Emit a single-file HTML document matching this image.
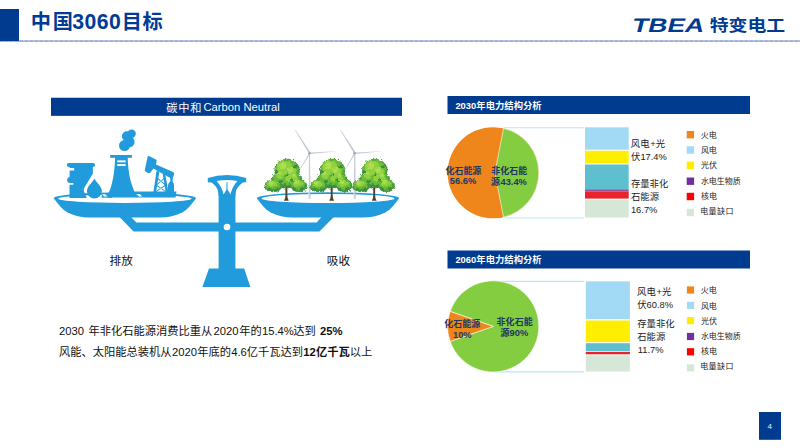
<!DOCTYPE html>
<html lang="zh"><head><meta charset="utf-8"><title>中国3060目标</title>
<style>
html,body{margin:0;padding:0;background:#fff;}
body{width:800px;height:448px;position:relative;overflow:hidden;font-family:"Liberation Sans","Noto Sans CJK SC",sans-serif;}
#txt span{position:absolute;white-space:nowrap;color:transparent;line-height:1;font-family:"Liberation Sans","Noto Sans CJK SC",sans-serif;}
svg text{font-family:"Liberation Sans","Noto Sans CJK SC",sans-serif;}
</style></head><body>
<div id="txt" aria-hidden="false"><span style="left:32.5px;top:11.0px;font-size:20.20px">中国</span><span style="left:73.1px;top:9.8px;font-size:21.20px">3060</span><span style="left:124.6px;top:10.9px;font-size:20.20px">目标</span><span style="left:631.4px;top:14.2px;font-size:19.50px">TBEA</span><span style="left:710.0px;top:16.8px;font-size:16.00px">特变电工</span><span style="left:166.7px;top:101.7px;font-size:11.25px">碳中和</span><span style="left:204.1px;top:100.8px;font-size:11.25px">Carbon Neutral</span><span style="left:110.0px;top:254.7px;font-size:11.67px">排放</span><span style="left:327.8px;top:254.8px;font-size:11.67px">吸收</span><span style="left:59.6px;top:324.5px;font-size:11.25px">2030 年非化石能源消费比重从2020年的15.4%达到 25%</span><span style="left:59.5px;top:346.1px;font-size:11.25px">风能、太阳能总装机从2020年底的4.6亿千瓦达到12亿千瓦以上</span><span style="left:455.8px;top:100.4px;font-size:9.33px">2030年电力结构分析</span><span style="left:455.8px;top:254.1px;font-size:9.33px">2060年电力结构分析</span><span style="left:445.7px;top:165.3px;font-size:9.33px">化石能源</span><span style="left:450.2px;top:176.1px;font-size:9.33px">56.6%</span><span style="left:491.7px;top:165.3px;font-size:9.33px">非化石能</span><span style="left:491.0px;top:176.3px;font-size:9.33px">源43.4%</span><span style="left:444.6px;top:319.1px;font-size:9.33px">化石能源</span><span style="left:453.5px;top:329.9px;font-size:9.33px">10%</span><span style="left:497.0px;top:316.7px;font-size:9.33px">非化石能</span><span style="left:500.5px;top:327.7px;font-size:9.33px">源90%</span><span style="left:631.2px;top:138.6px;font-size:9.33px">风电+光</span><span style="left:631.2px;top:151.4px;font-size:9.33px">伏17.4%</span><span style="left:631.2px;top:179.0px;font-size:9.33px">存量非化</span><span style="left:631.2px;top:191.5px;font-size:9.33px">石能源</span><span style="left:631.8px;top:204.6px;font-size:9.33px">16.7%</span><span style="left:637.5px;top:286.4px;font-size:9.33px">风电+光</span><span style="left:637.5px;top:299.4px;font-size:9.33px">伏60.8%</span><span style="left:637.5px;top:318.7px;font-size:9.33px">存量非化</span><span style="left:637.5px;top:331.7px;font-size:9.33px">石能源</span><span style="left:638.6px;top:344.5px;font-size:9.33px">11.7%</span><span style="left:701.2px;top:130.9px;font-size:8.00px">火电</span><span style="left:701.2px;top:146.0px;font-size:8.00px">风电</span><span style="left:701.2px;top:161.2px;font-size:8.00px">光伏</span><span style="left:701.2px;top:176.5px;font-size:8.00px">水电生物质</span><span style="left:701.2px;top:191.4px;font-size:8.00px">核电</span><span style="left:701.2px;top:206.5px;font-size:8.00px">电量缺口</span><span style="left:701.2px;top:286.3px;font-size:8.00px">火电</span><span style="left:701.2px;top:301.4px;font-size:8.00px">风电</span><span style="left:701.2px;top:316.6px;font-size:8.00px">光伏</span><span style="left:701.2px;top:331.9px;font-size:8.00px">水电生物质</span><span style="left:701.2px;top:346.8px;font-size:8.00px">核电</span><span style="left:701.2px;top:361.9px;font-size:8.00px">电量缺口</span><span style="left:767.7px;top:421.7px;font-size:8.00px">4</span></div>
<svg width="800" height="448" viewBox="0 0 800 448" style="position:absolute;left:0;top:0;display:block"><rect x="0" y="9" width="19" height="32" fill="#003b90"/>
<line x1="0" y1="41.1" x2="800" y2="41.1" stroke="#003b90" stroke-width="1.9" opacity="0.24"/><line x1="0" y1="41.1" x2="800" y2="41.1" stroke="#003b90" stroke-width="1.5" stroke-dasharray="0.6 0.65" opacity="0.5"/>
<text x="30.64" y="29.19" font-size="20.2" font-weight="bold" fill="#003b96" textLength="42.3" lengthAdjust="spacing">中国</text>
<text x="72.28" y="28.83" font-size="21.2" font-weight="bold" fill="#003b96" textLength="48.5" lengthAdjust="spacing">3060</text>
<text x="121.70" y="29.09" font-size="20.2" font-weight="bold" fill="#003b96" textLength="41.1" lengthAdjust="spacing">目标</text>
<g fill="#003b90" transform="translate(0 32) skewX(-14) translate(0 -32)"><text x="630.91" y="31.71" font-size="19.5" font-weight="bold" textLength="72" lengthAdjust="spacingAndGlyphs">TBEA</text></g>
<text x="709.70" y="31.17" font-size="16" font-weight="bold" fill="#003b90" textLength="75.5" lengthAdjust="spacingAndGlyphs">特变电工</text>
<rect x="51" y="97.75" width="351" height="18.1" fill="#003b90"/>
<text x="166.30" y="111.85" font-size="11.25" fill="#ffffff" textLength="35.1" lengthAdjust="spacing">碳中和</text>
<text x="203.39" y="110.97" font-size="11.25" fill="#ffffff">Carbon Neutral</text>
<g id="scale" fill="#219bdc">
<!-- arm -->
<path d="M119.5 217 L133.6 231.5 H319.4 L333.8 217 H321.6 L316.6 222.5 H136.4 L131 217 Z"/>
<!-- post -->
<rect x="218.6" y="190" width="16.8" height="80"/>
<path d="M209 268.4 H244.2 L250.4 287 H202.4 Z"/>
<!-- cap + funnel -->
<path d="M207.8 178 Q227 172 246.2 178 L246.2 182.4 Q243 182 241.6 183.4 C236.5 187.5 235.4 191 235.4 196 H218.6 C218.6 191 217.5 187.5 212.4 183 Q211 182 207.8 182.4 Z"/>
<path d="M216.6 180.9 Q227 179.3 237.4 180.9 C233.5 185 231.6 189.5 230.6 194.6 L227.6 189.8 L227.4 182 L226.6 182 L226.4 189.8 L223.6 194.6 C222.4 189.5 220.5 185 216.6 180.9 Z" fill="#fff"/>
<circle cx="227" cy="227" r="3.3" fill="#fff"/>
<!-- left pan -->
<path d="M53.7 198.2 A71.2 5.9 0 0 1 196.1 198.2 C192.1 203.6 187.6 209.4 182.6 212.2 C176.1 215.6 168.1 217.5 160.1 217.5 H89.7 C81.7 217.5 73.7 215.6 67.2 212.2 C62.2 209.4 57.7 203.6 53.7 198.2 Z"/>
<ellipse cx="124.9" cy="198.7" rx="66.6" ry="4.2" fill="#fff"/>
<!-- right pan -->
<path d="M256.8 198.2 A71.2 5.9 0 0 1 399.2 198.2 C395.2 203.6 390.7 209.4 385.7 212.2 C379.2 215.6 371.2 217.5 363.2 217.5 H292.8 C284.8 217.5 276.8 215.6 270.3 212.2 C265.3 209.4 260.8 203.6 256.8 198.2 Z"/>
<ellipse cx="328" cy="198.5" rx="66.4" ry="4.6" fill="#fff"/>
<!-- barrel -->
<rect x="66.9" y="163.1" width="28.1" height="3.9" rx="1.9"/>
<path d="M69.6 166.5 H92.9 V173.6 L84.2 188 Q83.2 189.8 84 191.6 L86.8 198 H69.5 V184.8 H73.4 V183 H69.2 Q67 182.4 67.1 179.8 Q67.3 177.2 69.6 177.1 V170.4 H74.2 V167.9 H69.6 Z"/>
<!-- drop -->
<path d="M94.4 178.4 C96.2 182.6 101.9 186.2 101.9 190.9 A7.5 7.5 0 0 1 86.9 190.9 C86.9 186.2 92.6 182.6 94.4 178.4 Z"/>
<!-- cooling tower -->
<rect x="110.2" y="155" width="21.7" height="2.8"/>
<path d="M115.1 157 H127.7 C127.9 168 129.6 179 132.6 187 Q133.8 190.6 135.4 194 H108 Q109.8 190.6 111 187 C113.4 179 114.9 168 115.1 157 Z"/><path d="M102 193.6 H112 V197.8 H101.6 Z"/><path d="M102.2 194.2 H105.4 L107.4 196.6 H104 Z" fill="#fff"/>
<rect x="117.2" y="160.4" width="8.4" height="1.9" fill="#fff"/>
<rect x="117.2" y="164.1" width="8.4" height="1.9" fill="#fff"/>
<!-- smoke -->
<circle cx="131.6" cy="133.8" r="4.2"/><circle cx="126.9" cy="136.3" r="5"/><circle cx="129.2" cy="141.9" r="5.4"/><circle cx="124.5" cy="145.6" r="5.5"/>
<!-- pumpjack -->
<path d="M148.9 156 L156 159.5 Q156.9 160.1 156.6 161.1 L156 164.4 L173 172 Q174.4 172.8 174.1 174.2 L173 177.6 Q172.4 178.8 171.2 178.4 L153.4 168.6 L150.4 172.4 Q149.4 173.4 148 172.9 L145.6 171.6 Q144.5 170.9 144.9 169.6 L147.6 156.8 Q148 155.7 148.9 156 Z"/>
<path d="M156.6 170.6 L159.4 171.8 L156.1 192 H153.4 Z M162.6 173.6 L165.4 175 L168.4 192 H165.7 Z"/>
<path d="M157.2 177.5 L165.4 184.3 L165 185.2 L156.8 178.5 Z M164.4 177.7 L156.4 184.5 L156.7 185.4 L164.8 178.6 Z M156.4 184.5 L166.4 191.5 L165.9 192.3 L156 185.4 Z M165.6 184.5 L155.4 191.5 L155.8 192.3 L166 185.4 Z"/>
<path d="M170.4 177.8 H172.8 L172.6 181.4 Q174 183 174 185 V192 H168 V185.4 Q168.2 183 170.2 181.6 Z"/>
<path d="M132 191.5 H176.5 L175.5 197.6 H108 V193.8 H132 Z"/>
<path d="M136.4 194 H139.8 L142.4 196.5 H139 Z" fill="#fff"/>
</g>

<defs>
<filter id="rough" x="-20%" y="-20%" width="140%" height="140%">
<feTurbulence type="fractalNoise" baseFrequency="0.45" numOctaves="2" seed="4" result="n"/>
<feDisplacementMap in="SourceGraphic" in2="n" scale="3.6" xChannelSelector="R" yChannelSelector="G"/>
</filter>
<linearGradient id="twr" x1="0" x2="1" y1="0" y2="0"><stop offset="0" stop-color="#e4e7ee"/><stop offset="0.6" stop-color="#c3c8d6"/><stop offset="1" stop-color="#aab0c4"/></linearGradient>
<g id="tree">
<path d="M-2.4 0.5 Q-0.8 -1.6 -0.9 -6 L-1.1 -15 H1.1 L0.9 -6 Q0.8 -1.6 2.4 0.5 Z" fill="#54412a"/>
<g filter="url(#rough)">
<g fill="#46983c">
<ellipse cx="0.6" cy="-29.4" rx="12.8" ry="12"/><ellipse cx="-13" cy="-14.4" rx="9" ry="6.4"/><ellipse cx="12.4" cy="-14.8" rx="8.2" ry="6.7"/><ellipse cx="0" cy="-17.5" rx="10" ry="5.6"/><ellipse cx="-8" cy="-20.5" rx="7.5" ry="6"/><ellipse cx="8.5" cy="-20.5" rx="7.5" ry="6"/>
</g>
<g fill="#6abb38">
<ellipse cx="0.2" cy="-30.6" rx="11.4" ry="10.4"/><ellipse cx="-13.4" cy="-15.4" rx="7.6" ry="5"/><ellipse cx="12" cy="-15.8" rx="6.9" ry="5.3"/><ellipse cx="0" cy="-20" rx="7" ry="5"/><ellipse cx="-8" cy="-22" rx="5.6" ry="4.6"/><ellipse cx="8" cy="-22" rx="5.6" ry="4.6"/>
</g>
<g fill="#8fd23f">
<circle cx="-2" cy="-33" r="7.2"/><circle cx="5" cy="-28" r="5.2"/><ellipse cx="-14.2" cy="-16.6" rx="5" ry="3.2"/><ellipse cx="11.4" cy="-17" rx="4.8" ry="3.4"/><circle cx="-6.5" cy="-25" r="3.8"/><circle cx="2" cy="-21.5" r="3"/><circle cx="8.6" cy="-23" r="2.6"/>
</g>
<g fill="#aede4f">
<circle cx="-3.5" cy="-34.5" r="3.4"/><circle cx="4" cy="-30" r="2.7"/><circle cx="-15.5" cy="-17.4" r="2.2"/><circle cx="10" cy="-18.4" r="2.3"/><circle cx="-7" cy="-27" r="1.8"/><circle cx="7.5" cy="-25" r="1.6"/>
</g>
<g fill="#3c8a4c">
<circle cx="5.5" cy="-20" r="1.8"/><circle cx="-6" cy="-18.5" r="1.8"/><circle cx="9" cy="-33.5" r="1.6"/><circle cx="-10" cy="-28" r="1.6"/><circle cx="16" cy="-11.5" r="1.8"/><circle cx="-10" cy="-10.8" r="1.8"/><circle cx="-17" cy="-11.2" r="1.5"/><circle cx="8" cy="-11" r="1.6"/><circle cx="1" cy="-25.5" r="1.4"/><circle cx="-3" cy="-13.4" r="1.6"/><circle cx="3" cy="-13.6" r="1.5"/><circle cx="-1" cy="-15.5" r="1.4"/>
</g>
</g>
</g>
<g id="turbine">
<path d="M-0.95 -0.6 L-0.6 -45.6 H0.6 L0.95 -0.6 Z" fill="url(#twr)"/>
<path d="M-0.5 -46 L-14.3 -69.2 L-13.8 -69.4 L0.8 -47.3 Z" fill="#c0c7d6"/>
<path d="M0.2 -47 L26.4 -48.1 L26.4 -47.8 L1.2 -45.4 Z" fill="#c8cedb"/>
<path d="M-0.4 -46 L-10.5 -28.6 L-10.2 -28.4 L0.4 -45.4 Z" fill="#b4bac8"/>
<circle cx="0.1" cy="-46.2" r="1.2" fill="#9a9fae"/>
</g>
</defs>
<use href="#turbine" x="309.4" y="199.4"/>
<use href="#turbine" x="354.6" y="199.4"/>
<use href="#tree" x="286.4" y="200.2"/>
<use href="#tree" x="331.7" y="200.2"/>
<use href="#tree" x="374.2" y="200.2"/>

<text x="109.50" y="265.18" font-size="11.67" fill="#101010">排放</text>
<text x="326.82" y="265.33" font-size="11.67" fill="#101010">吸收</text>
<text y="334.60" font-size="11.25" fill="#101010"><tspan x="59.05">2030</tspan><tspan x="88.53">年非化石能源消费比重从</tspan><tspan x="213.60">2020</tspan><tspan x="239.21">年的</tspan><tspan x="261.95">15.4%</tspan><tspan x="293.36">达到</tspan><tspan x="319.97" font-weight="bold">25%</tspan></text>
<text y="356.25" font-size="11.25" fill="#101010"><tspan x="59.05">风能、太阳能总装机从</tspan><tspan x="171.89">2020</tspan><tspan x="197.31">年底的</tspan><tspan x="231.16">4.6</tspan><tspan x="246.83">亿千瓦达到</tspan><tspan x="303.25" font-weight="bold">12</tspan><tspan x="315.94" font-weight="bold">亿千瓦</tspan><tspan x="349.80">以上</tspan></text>
<path d="M503.54 127.70 H584 M503.54 218.00 H584" stroke="#bfe4f8" stroke-width="1.1" fill="none"/>
<circle cx="493.20" cy="172.75" r="45.60" fill="#ee861c"/>
<path d="M494.9 173 L503.54 128.34 A45.60 45.60 0 0 1 503.54 217.16 Z" fill="#84cc40" stroke="#fff" stroke-width="0.6" stroke-linejoin="round"/>
<rect x="585.00" y="127.30" width="43.70" height="22.40" fill="#a2d9f4"/><rect x="585.00" y="150.80" width="43.70" height="12.60" fill="#ffee00"/><rect x="585.00" y="164.50" width="43.70" height="24.80" fill="#5ec0cf"/><rect x="585.00" y="189.30" width="43.70" height="2.40" fill="#9e4f94"/><rect x="585.00" y="191.70" width="43.70" height="6.90" fill="#e7232c"/><rect x="585.00" y="199.70" width="43.70" height="17.80" fill="#d5e8d8"/>
<path d="M493.20 281.40 H584 M493.20 371.90 H584" stroke="#bfe4f8" stroke-width="1.1" fill="none"/>
<path d="M493.20 326.40 L450.14 341.40 A45.60 45.60 0 1 0 450.14 311.40 Z" fill="#84cc40" stroke="#fff" stroke-width="0.6" stroke-linejoin="round"/><path d="M493.20 326.40 L450.14 311.40 A45.60 45.60 0 0 0 450.14 341.40 Z" fill="#ee861c" stroke="#fff" stroke-width="0.6" stroke-linejoin="round"/>
<rect x="585.80" y="281.30" width="44.10" height="37.90" fill="#a2d9f4"/><rect x="585.80" y="320.50" width="44.10" height="21.60" fill="#ffee00"/><rect x="585.80" y="343.20" width="44.10" height="7.80" fill="#5ec0cf"/><rect x="585.80" y="351.80" width="44.10" height="2.50" fill="#e7232c"/><rect x="585.80" y="355.40" width="44.10" height="16.10" fill="#d5e8d8"/>
<rect x="447.5" y="96" width="302.5" height="18" fill="#003b90"/>
<rect x="447.5" y="250.5" width="302.5" height="18" fill="#003b90"/>
<text y="108.84" font-size="9.33" font-weight="bold" fill="#ffffff"><tspan x="455.40">2030</tspan><tspan x="476.35">年电力结构分析</tspan></text>
<text y="262.54" font-size="9.33" font-weight="bold" fill="#ffffff"><tspan x="455.40">2060</tspan><tspan x="476.35">年电力结构分析</tspan></text>
<text x="445.44" y="173.66" font-size="9.33" font-weight="bold" fill="#1d3763" textLength="35.9" lengthAdjust="spacingAndGlyphs">化石能源</text>
<text x="449.75" y="184.47" font-size="9.33" font-weight="bold" fill="#1d3763">56.6%</text>
<text x="491.30" y="173.66" font-size="9.33" font-weight="bold" fill="#1d3763" textLength="35.9" lengthAdjust="spacingAndGlyphs">非化石能</text>
<text y="184.71" font-size="9.33" font-weight="bold" fill="#1d3763"><tspan x="490.73">源</tspan><tspan x="500.47">43.4%</tspan></text>
<text x="444.34" y="327.46" font-size="9.33" font-weight="bold" fill="#1d3763" textLength="36" lengthAdjust="spacingAndGlyphs">化石能源</text>
<text x="452.96" y="338.29" font-size="9.33" font-weight="bold" fill="#1d3763">10%</text>
<text x="496.59" y="325.06" font-size="9.33" font-weight="bold" fill="#1d3763" textLength="36.1" lengthAdjust="spacingAndGlyphs">非化石能</text>
<text y="336.11" font-size="9.33" font-weight="bold" fill="#1d3763"><tspan x="500.24">源</tspan><tspan x="509.55">90%</tspan></text>
<text y="147.04" font-size="9.33" fill="#222222"><tspan x="630.81">风电</tspan><tspan x="650.22">+</tspan><tspan x="655.68">光</tspan></text>
<text y="159.85" font-size="9.33" fill="#222222"><tspan x="630.94">伏</tspan><tspan x="640.38">17.4%</tspan></text>
<text x="630.92" y="187.45" font-size="9.33" fill="#222222">存量非化</text>
<text x="630.97" y="199.85" font-size="9.33" fill="#222222">石能源</text>
<text x="630.93" y="212.96" font-size="9.33" fill="#222222">16.7%</text>
<text y="294.84" font-size="9.33" fill="#222222"><tspan x="637.11">风电</tspan><tspan x="656.49">+</tspan><tspan x="661.95">光</tspan></text>
<text y="307.85" font-size="9.33" fill="#222222"><tspan x="637.24">伏</tspan><tspan x="646.60">60.8%</tspan></text>
<text x="637.22" y="327.15" font-size="9.33" fill="#222222">存量非化</text>
<text x="637.27" y="340.05" font-size="9.33" fill="#222222">石能源</text>
<text x="637.76" y="352.86" font-size="9.33" fill="#222222">11.7%</text>
<rect x="686.7" y="131.0" width="7.4" height="7.4" fill="#ee861c"/>
<text x="700.79" y="138.08" font-size="8" fill="#222222">火电</text>
<rect x="686.7" y="146.3" width="7.4" height="7.4" fill="#a2d9f4"/>
<text x="700.88" y="153.18" font-size="8" fill="#222222">风电</text>
<rect x="686.7" y="161.6" width="7.4" height="7.4" fill="#ffee00"/>
<text x="700.93" y="168.39" font-size="8" fill="#222222">光伏</text>
<rect x="686.7" y="177.5" width="7.4" height="7.4" fill="#7030a0"/>
<text x="700.89" y="183.69" font-size="8" fill="#222222">水电生物质</text>
<rect x="686.7" y="192.8" width="7.4" height="7.4" fill="#ff0000"/>
<text x="700.94" y="198.60" font-size="8" fill="#222222">核电</text>
<rect x="686.7" y="208.8" width="7.4" height="7.4" fill="#d5e8d8"/>
<text x="700.15" y="213.70" font-size="8" fill="#222222" textLength="33.3" lengthAdjust="spacing">电量缺口</text>
<rect x="686.9" y="286.4" width="7.2" height="7.2" fill="#ee861c"/>
<text x="700.79" y="293.48" font-size="8" fill="#222222">火电</text>
<rect x="686.9" y="301.7" width="7.2" height="7.2" fill="#a2d9f4"/>
<text x="700.88" y="308.58" font-size="8" fill="#222222">风电</text>
<rect x="686.9" y="317.0" width="7.2" height="7.2" fill="#ffee00"/>
<text x="700.93" y="323.79" font-size="8" fill="#222222">光伏</text>
<rect x="686.9" y="332.9" width="7.2" height="7.2" fill="#7030a0"/>
<text x="700.89" y="339.09" font-size="8" fill="#222222">水电生物质</text>
<rect x="686.9" y="348.2" width="7.2" height="7.2" fill="#ff0000"/>
<text x="700.94" y="354.00" font-size="8" fill="#222222">核电</text>
<rect x="686.9" y="364.2" width="7.2" height="7.2" fill="#d5e8d8"/>
<text x="700.15" y="369.10" font-size="8" fill="#222222" textLength="33.3" lengthAdjust="spacing">电量缺口</text>
<rect x="759" y="412" width="22" height="27.8" fill="#003b90"/>
<text x="767.54" y="428.86" font-size="8" fill="#e8ecf5">4</text></svg>
</body></html>
